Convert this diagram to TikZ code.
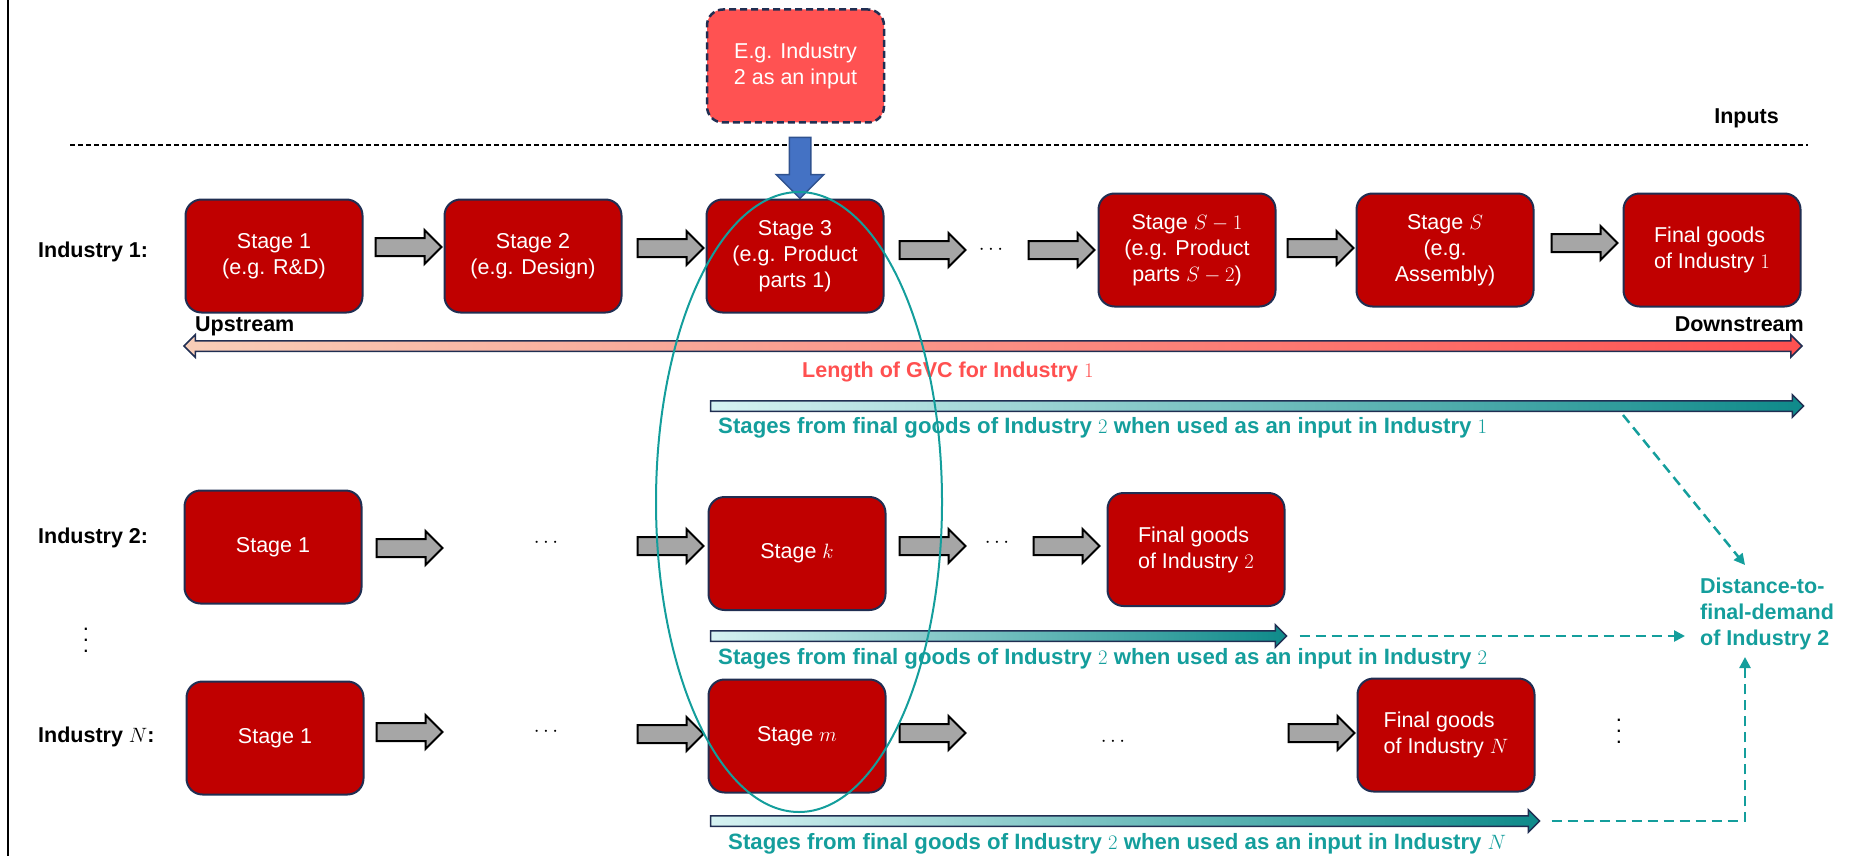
\documentclass[tikz,border=0pt]{standalone}
\usepackage{fontspec}
\setmainfont{Liberation Sans}
\usetikzlibrary{shapes.arrows,arrows.meta,calc}

\newlength{\du}
\setlength{\du}{1pt}

\definecolor{stagered}{RGB}{192,0,0}
\definecolor{inputred}{RGB}{255,82,82}
\definecolor{boxline}{RGB}{32,46,82}
\definecolor{arrowgray}{RGB}{166,166,166}
\definecolor{inblue}{RGB}{68,114,196}
\definecolor{inblueline}{RGB}{47,82,143}
\definecolor{teallight}{RGB}{214,242,242}
\definecolor{tealdark}{RGB}{14,138,138}
\definecolor{tealtext}{RGB}{20,158,156}
\definecolor{peach}{RGB}{248,206,184}
\definecolor{gvcred}{RGB}{255,80,80}

\newcommand{\stagefont}{\fontsize{21.5}{26}\selectfont}
\newcommand{\rowfont}{\fontsize{21.5}{26}\selectfont\bfseries}
% three stacked dots, spaced like the slide
\newcommand{\tallvdots}{\vbox{\baselineskip=11\du\lineskiplimit=0pt\hbox{.}\hbox{.}\hbox{.}}}

\tikzset{
  stagebox/.style={rounded corners=16\du, fill=stagered, draw=boxline, line width=2\du,
    text=white, font=\stagefont, align=center, inner sep=0pt,
    minimum width=177\du, minimum height=113\du},
  flowarrow/.style={single arrow, fill=arrowgray, draw=black, line width=2\du,
    inner xsep=0pt, inner ysep=8\du,
    minimum height=66\du, minimum width=33\du, single arrow head extend=8\du},
  spanarrow/.style={single arrow, draw=boxline, line width=1.5\du,
    inner xsep=0pt, inner ysep=4.5\du,
    minimum width=22\du, single arrow head extend=6\du,
    left color=teallight, right color=tealdark},
  rowlabel/.style={font=\rowfont, anchor=west, inner sep=0pt},
  spanlabel/.style={font=\fontsize{22.2}{26}\selectfont\bfseries, text=tealtext, anchor=base west, inner sep=0pt},
  distline/.style={draw=tealtext, line width=2.5\du, dash pattern=on 10\du off 6\du,
    -{Triangle[length=11pt,width=11pt]}},
  hdots/.style={font=\fontsize{22}{22}\selectfont, inner sep=0pt},
}

\begin{document}
\begin{tikzpicture}
\pgftransformxscale{1.000000}
\pgftransformyscale{-1.000000}
\useasboundingbox (0\du,0\du) rectangle (1854\du,856\du);
\draw[line width=2\du] (8\du,0\du) -- (8\du,856\du);

% input from industry 2
\node[stagebox, fill=inputred, dash pattern=on 7\du off 4\du, line width=2.5\du] (inp) at (795.5\du,66\du) {E.g. Industry\\2 as an input};
\node[font=\rowfont, anchor=base east, inner sep=0pt] (inputs) at (1779\du,124\du) {Inputs};
\draw[line width=1.5\du, dash pattern=on 5\du off 3\du] (70\du,145\du) -- (1808\du,145\du);
\node[single arrow, shape border rotate=270, fill=inblue, draw=inblueline, line width=1.5\du,
  inner sep=10\du, minimum height=61\du, minimum width=46\du, single arrow head extend=13\du]
  (inarrow) at (800\du,162.5\du) {};

% industry 1
\node[rowlabel] (ind1) at (38\du,252\du) {Industry 1:};
\node[stagebox] (s11) at (274\du,256\du) {Stage 1\\(e.g. R\&D)};
\node[stagebox] (s12) at (533\du,256\du) {Stage 2\\(e.g. Design)};
\node[stagebox] (s13) at (795\du,256\du) {Stage 3\\(e.g. Product\\parts 1)};
\node[stagebox] (s1a) at (1187\du,250\du) {Stage $S-1$\\(e.g. Product\\parts $S-2$)};
\node[stagebox] (s1b) at (1445\du,250\du) {Stage $S$\\(e.g.\\Assembly)};
\node[stagebox, align=left] (f1) at (1712\du,250\du) {Final goods\\of Industry $1$};
\node[flowarrow] (a11) at (404\du,247\du) {};
\node[flowarrow] (a12) at (666\du,248\du) {};
\node[flowarrow] (a13) at (928\du,250\du) {};
\node[hdots] (d1) at (991\du,250\du) {$\cdots$};
\node[flowarrow] (a14) at (1057\du,250\du) {};
\node[flowarrow] (a15) at (1316\du,248\du) {};
\node[flowarrow] (a16) at (1580\du,243\du) {};

% length of GVC
\node[font=\rowfont, anchor=base west, inner sep=0pt] (up) at (195\du,331\du) {Upstream};
\node[font=\rowfont, anchor=base east, inner sep=0pt] (down) at (1804\du,331\du) {Downstream};
\node[double arrow, draw=boxline, line width=1.5\du, inner xsep=0pt, inner ysep=4.5\du, minimum width=22\du,
  double arrow head extend=6\du, minimum height=1618\du, left color=peach, right color=gvcred]
  (gvc) at (993\du,346\du) {};
\node[font=\rowfont, text=gvcred, anchor=base west, inner sep=0pt] (gvclab) at (802\du,377\du) {Length of GVC for Industry $1$};

\node[spanarrow, minimum height=1093\du] (span1) at (1254.5\du,406\du) {};
\node[spanlabel] (span1lab) at (718\du,433\du) {Stages from final goods of Industry $2$ when used as an input in Industry $1$};

% industry 2
\node[rowlabel] (ind2) at (38\du,538\du) {Industry 2:};
\node[stagebox] (s21) at (273\du,547\du) {Stage 1};
\node[flowarrow] (a21) at (405\du,548\du) {};
\node[hdots] (d21) at (546\du,543\du) {$\cdots$};
\node[flowarrow] (a22) at (666\du,546\du) {};
\node[stagebox] (s2k) at (797\du,553.5\du) {Stage $k$};
\node[flowarrow] (a23) at (928\du,546\du) {};
\node[hdots] (d22) at (997\du,543\du) {$\cdots$};
\node[flowarrow] (a24) at (1062\du,546\du) {};
\node[stagebox, align=left] (f2) at (1196\du,549.5\du) {Final goods\\of Industry $2$};

\node[spanarrow, minimum height=576\du] (span2) at (996\du,636\du) {};
\node[spanlabel] (span2lab) at (718\du,664\du) {Stages from final goods of Industry $2$ when used as an input in Industry $2$};

\node[hdots] (vd1) at (86\du,640\du) {\tallvdots};

% industry N
\node[rowlabel] (indn) at (38\du,737\du) {Industry $N$:};
\node[stagebox] (sn1) at (275\du,738\du) {Stage 1};
\node[flowarrow] (an1) at (405\du,732\du) {};
\node[hdots] (dn1) at (546\du,732\du) {$\cdots$};
\node[flowarrow] (an2) at (666\du,734\du) {};
\node[stagebox] (snm) at (797\du,736\du) {Stage $m$};
\node[flowarrow] (an3) at (928\du,733\du) {};
\node[hdots] (dn2) at (1113\du,742\du) {$\cdots$};
\node[flowarrow] (an4) at (1317\du,733\du) {};
\node[stagebox, align=left] (fn) at (1446\du,735\du) {Final goods\\of Industry $N$};
\node[hdots] (vd2) at (1619\du,731\du) {\tallvdots};

\node[spanarrow, minimum height=829\du] (spann) at (1122.5\du,821\du) {};
\node[spanlabel] (spannlab) at (728\du,849\du) {Stages from final goods of Industry $2$ when used as an input in Industry $N$};

% distance to final demand
\node[font=\rowfont, text=tealtext, align=left, anchor=north west, inner sep=0pt] (dist) at (1700\du,578\du)
  {Distance-to-\\final-demand\\of Industry 2};
\coordinate (dfrom) at (1623\du,415\du);
\coordinate (dtop) at (1745\du,565\du);
\coordinate (dbot) at (1745\du,657\du);
\draw[distline] (dfrom) -- (dtop);
\draw[distline] ($(span2.tip)+(12\du,0)$) -- ($(dist.west |- span2.tip)+(-15\du,0)$);
\draw[distline] ($(spann.tip)+(11\du,0)$) -| (dbot);

\draw[draw=tealtext, line width=2\du] (799\du,502\du) ellipse [x radius=143\du, y radius=310\du];
\end{tikzpicture}
\end{document}
